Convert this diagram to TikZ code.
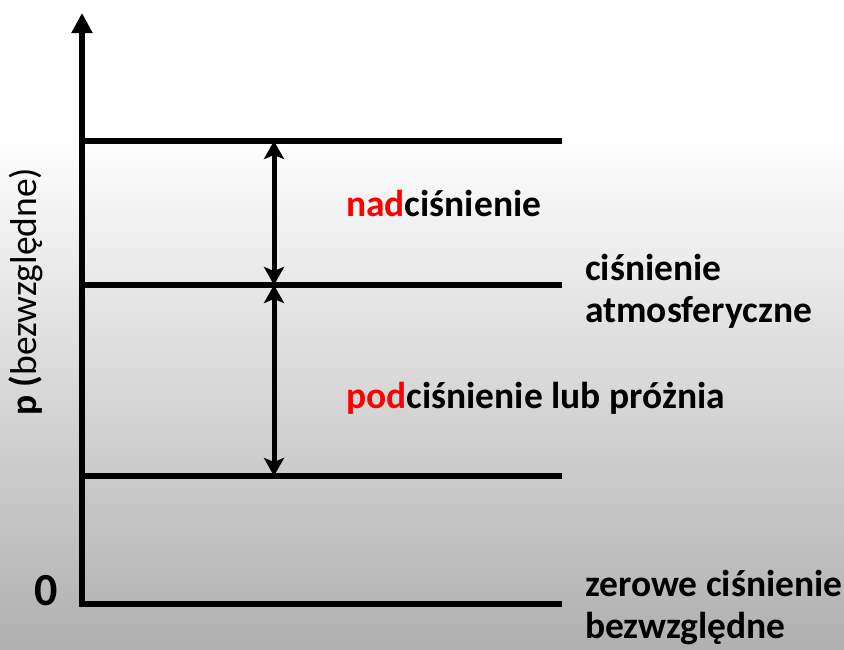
\documentclass[tikz,border=0pt]{standalone}
\usepackage{fontspec}
\setmainfont{Carlito}
\usetikzlibrary{arrows.meta}
\definecolor{bgtop}{HTML}{FFFFFF}
\definecolor{bgbot}{HTML}{B0B0B0}
\definecolor{redtxt}{HTML}{FF0000}
\tikzset{
  level/.style={line width=5.5pt},
  axis/.style={line width=5.5pt,-{Triangle[length=20pt,width=20pt]}},
  dimarrow/.style={line width=5pt,{Stealth[length=18pt,width=20pt,inset=4pt]}-{Stealth[length=18pt,width=20pt,inset=4pt]}},
  lbl/.style={font=\fontsize{37.5}{41.5}\selectfont\bfseries,inner sep=0pt,align=left,anchor=base west},
}
\begin{document}
\begin{tikzpicture}[x=1pt,y=-1pt]
\useasboundingbox (0,0) rectangle (844,649);
\fill[white] (0,0) rectangle (844,130);
\shade[top color=bgtop,bottom color=bgbot] (0,130) rectangle (844,649);
% axis
\coordinate (ax0) at (82,607);
\coordinate (axtop) at (82,13);
\draw[axis] (ax0) -- (axtop);
% levels
\coordinate (l1a) at (80,141); \coordinate (l1b) at (562,141);
\coordinate (l2a) at (80,285); \coordinate (l2b) at (562,285);
\coordinate (l3a) at (80,476); \coordinate (l3b) at (562,476);
\coordinate (l4a) at (80,604); \coordinate (l4b) at (562,604);
\draw[level] (l1a) -- (l1b);
\draw[level] (l2a) -- (l2b);
\draw[level] (l3a) -- (l3b);
\draw[level] (l4a) -- (l4b);
% dimension arrows
\coordinate (d1) at (274,141);
\coordinate (d2) at (274,285);
\coordinate (d3) at (274,476);
\draw[dimarrow] (d1) -- (d2);
\draw[dimarrow] (d2) -- (d3);
% labels
\node[lbl] (nad) at (346,216) {\textcolor{redtxt}{nad}ciśnienie};
\node[lbl] (atm) at (585,322) {ciśnienie\\atmosferyczne};
\node[lbl] (pod) at (346,408) {\textcolor{redtxt}{pod}ciśnienie lub próżnia};
\node[lbl] (zero) at (585,638) {zerowe ciśnienie\\bezwzględne};
\node[lbl,font=\fontsize{46}{50}\selectfont\bfseries] (z0) at (34,605) {0};
\node[lbl,rotate=90] (plab) at (36,416) {p (\mdseries bezwzględne)};
\end{tikzpicture}
\end{document}
